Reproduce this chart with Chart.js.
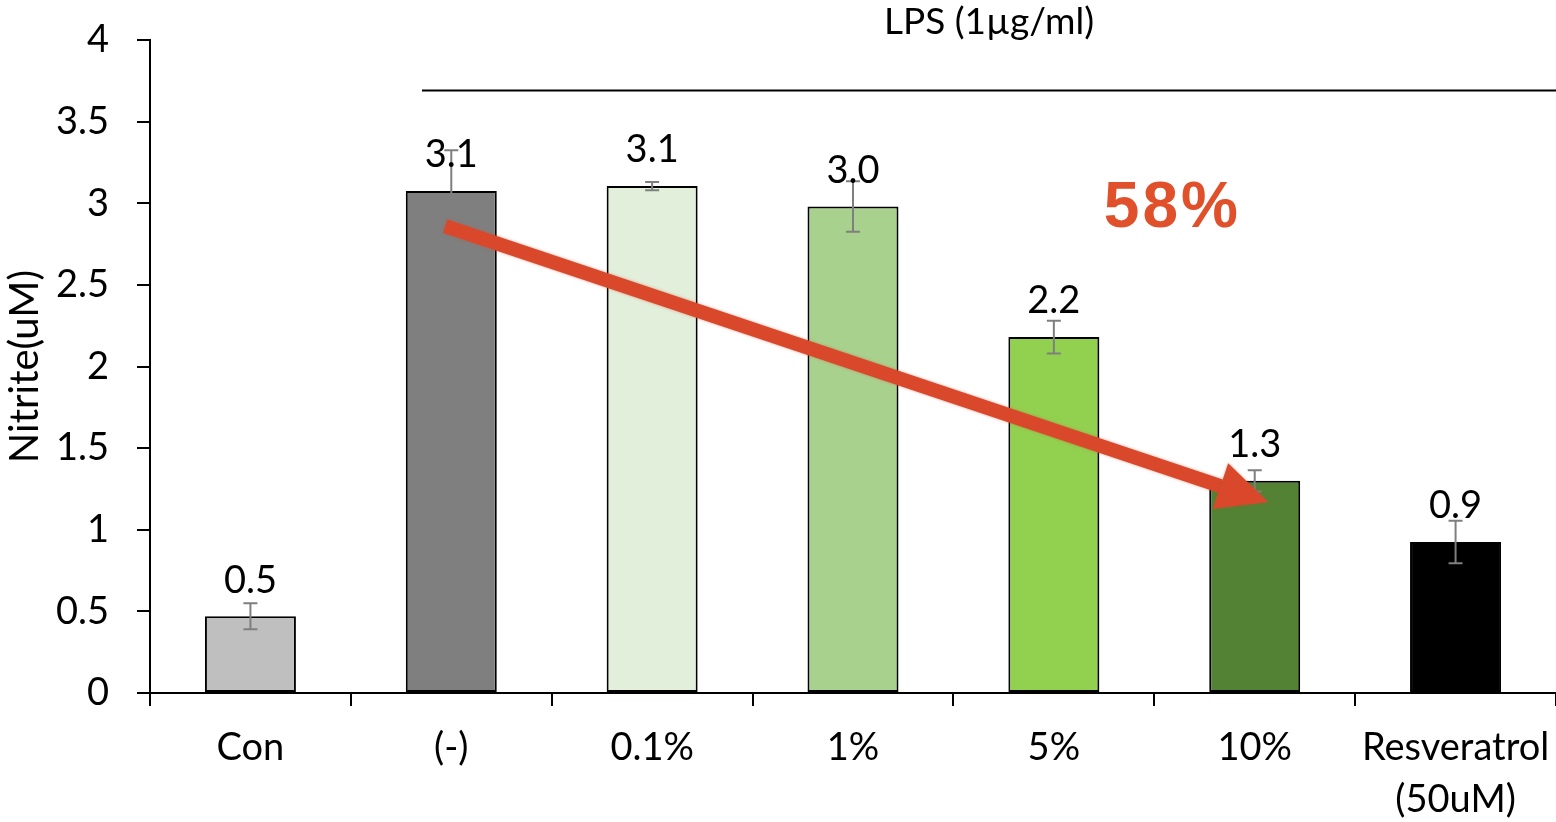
<!DOCTYPE html>
<html>
<head>
<meta charset="utf-8">
<script src="https://cdn.jsdelivr.net/npm/chart.js@4"></script>
<style>
  html, body { margin: 0; padding: 0; background: #fff; }
  #wrap { width: 1556px; height: 822px; }
</style>
</head>
<body>
<div id="wrap"><canvas id="nitriteChart" width="1556" height="822"></canvas></div>
<script>
// Data
const categories = ["Con", "(-)", "0.1%", "1%", "5%", "10%", ["Resveratrol", "(50uM)"]];
const nitriteValues = [0.47, 3.075, 3.105, 2.98, 2.18, 1.30, 0.925];
const errorValues = [0.08, 0.25, 0.025, 0.155, 0.10, 0.065, 0.13];
const barColors = ["#BFBFBF", "#7F7F7F", "#E2EFDA", "#A9D18E", "#92D050", "#548235", "#000000"];
const yTicks = [0, 0.5, 1, 1.5, 2, 2.5, 3, 3.5, 4];

// Annotations, in axis units (category index, value)
const lpsLabel = "LPS (1µg/ml)";
const lpsLine = { from: 0.854, to: 6.5, value: 3.69 };
const arrow = { fromIdx: 0.97, fromVal: 2.86, toIdx: 5.066, toVal: 1.17 };
const dropLabel = { text: "58%", idx: 4.59, value: 2.96 };

const FONT = "Lato";

const overlayPlugin = {
    id: "overlay",
    afterDatasetsDraw(chart) {
        const ctx = chart.ctx;
        const x = chart.scales.x;
        const y = chart.scales.y;
        const meta = chart.getDatasetMeta(0);

        // Error bars
        ctx.save();
        ctx.strokeStyle = "#7F7F7F";
        ctx.lineWidth = 2;
        meta.data.forEach((bar, i) => {
            const top = y.getPixelForValue(nitriteValues[i] + errorValues[i]);
            const bot = y.getPixelForValue(nitriteValues[i] - errorValues[i]);
            ctx.beginPath();
            ctx.moveTo(bar.x, top); ctx.lineTo(bar.x, bot);
            ctx.moveTo(bar.x - 7, top); ctx.lineTo(bar.x + 7, top);
            ctx.moveTo(bar.x - 7, bot); ctx.lineTo(bar.x + 7, bot);
            ctx.stroke();
        });
        ctx.restore();

        // Value labels
        ctx.save();
        ctx.fillStyle = "#000";
        ctx.font = "38px " + FONT;
        ctx.textAlign = "center";
        ctx.textBaseline = "middle";
        meta.data.forEach((bar, i) => {
            ctx.fillText(nitriteValues[i].toFixed(1), bar.x, bar.y - 36);
        });
        ctx.restore();

        // LPS bracket line + label
        ctx.save();
        const lx1 = x.getPixelForValue(lpsLine.from);
        const lx2 = x.getPixelForValue(lpsLine.to);
        const ly = y.getPixelForValue(lpsLine.value);
        ctx.strokeStyle = "#000";
        ctx.lineWidth = 2;
        ctx.beginPath();
        ctx.moveTo(lx1, ly); ctx.lineTo(lx2, ly);
        ctx.stroke();
        ctx.fillStyle = "#000";
        ctx.font = "37px " + FONT;
        ctx.textAlign = "center";
        ctx.textBaseline = "middle";
        ctx.fillText(lpsLabel, (lx1 + lx2) / 2, 22);
        ctx.restore();

        // Red arrow
        ctx.save();
        const ax1 = x.getPixelForValue(arrow.fromIdx);
        const ay1 = y.getPixelForValue(arrow.fromVal);
        const ax2 = x.getPixelForValue(arrow.toIdx);
        const ay2 = y.getPixelForValue(arrow.toVal);
        const ang = Math.atan2(ay2 - ay1, ax2 - ax1);
        const headLen = 50, headW = 24;
        const bx = ax2 - headLen * Math.cos(ang);
        const by = ay2 - headLen * Math.sin(ang);
        ctx.strokeStyle = "#D9482B";
        ctx.fillStyle = "#D9482B";
        ctx.shadowColor = "rgba(217,72,43,0.5)";
        ctx.shadowBlur = 3;
        ctx.lineWidth = 14;
        ctx.beginPath();
        ctx.moveTo(ax1, ay1); ctx.lineTo(bx, by);
        ctx.stroke();
        ctx.beginPath();
        ctx.moveTo(ax2, ay2);
        ctx.lineTo(bx + headW * Math.sin(ang), by - headW * Math.cos(ang));
        ctx.lineTo(bx - headW * Math.sin(ang), by + headW * Math.cos(ang));
        ctx.closePath();
        ctx.fill();
        ctx.restore();

        // 58%
        ctx.save();
        ctx.fillStyle = "#E0502A";
        ctx.font = "bold 64px 'Liberation Sans'";
        ctx.letterSpacing = "3px";
        ctx.textAlign = "center";
        ctx.textBaseline = "middle";
        ctx.fillText(dropLabel.text, x.getPixelForValue(dropLabel.idx), y.getPixelForValue(dropLabel.value));
        ctx.restore();
    }
};

const chart = new Chart(document.getElementById("nitriteChart"), {
    type: "bar",
    data: {
        labels: categories,
        datasets: [{
            data: nitriteValues,
            backgroundColor: barColors,
            borderColor: "#000",
            borderWidth: 2,
            borderSkipped: false,
            categoryPercentage: 1,
            barPercentage: 0.453
        }]
    },
    options: {
        responsive: false,
        animation: false,
        devicePixelRatio: 1,
        layout: { padding: { top: 40, right: 0, left: 0, bottom: 0 } },
        plugins: {
            legend: { display: false },
            tooltip: { enabled: false }
        },
        scales: {
            x: {
                afterFit(scale) {
                    scale.height = 129;
                    scale.paddingLeft = 0;
                    scale.paddingRight = 0;
                },
                grid: {
                    drawOnChartArea: false,
                    drawTicks: true,
                    tickLength: 13,
                    color: "#000",
                    lineWidth: 2,
                    offset: true
                },
                border: { color: "#000", width: 2 },
                ticks: {
                    color: "#000",
                    font: { family: FONT, size: 38, lineHeight: 1.36 },
                    padding: 16,
                    maxRotation: 0,
                    autoSkip: false
                }
            },
            y: {
                min: 0,
                max: 4,
                afterFit(scale) {
                    scale.width = 150;
                    scale.paddingTop = 0;
                    scale.paddingBottom = 0;
                },
                afterBuildTicks(scale) { scale.ticks = yTicks.map(v => ({ value: v })); },
                grid: {
                    drawOnChartArea: false,
                    drawTicks: true,
                    tickLength: 13,
                    color: "#000",
                    lineWidth: 2
                },
                border: { color: "#000", width: 2 },
                ticks: {
                    color: "#000",
                    font: { family: FONT, size: 38 },
                    padding: 28,
                    callback: v => String(v)
                },
                title: {
                    display: true,
                    text: "Nitrite(uM)",
                    color: "#000",
                    font: { family: FONT, size: 40 },
                    padding: { top: 1, bottom: 0 }
                }
            }
        }
    },
    plugins: [overlayPlugin]
});
</script>
</body>
</html>
